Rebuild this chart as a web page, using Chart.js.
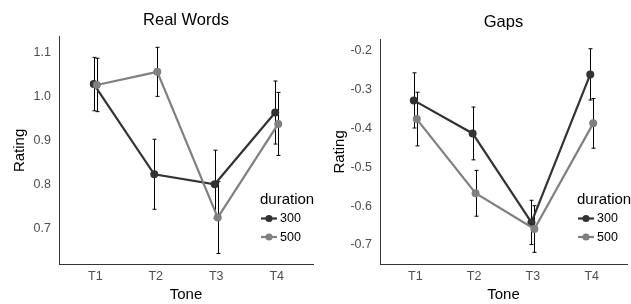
<!DOCTYPE html>
<html>
<head>
<meta charset="utf-8">
<script src="https://cdn.jsdelivr.net/npm/chart.js@4.4.0/dist/chart.umd.min.js"></script>
<style>
body { margin: 0; background: #fff; }
#left { position: absolute; left: 0; top: 0; width: 320px; height: 304px; }
#right { position: absolute; left: 320px; top: 0; width: 311px; height: 304px; }
</style>
</head>
<body>
<div id="left"><canvas id="wordsChart"></canvas></div>
<div id="right"><canvas id="gapsChart"></canvas></div>
<script>
var tones = ['T1', 'T2', 'T3', 'T4'];
var durations = ['300', '500'];

// Real Words panel
var words300 = [1.029, 0.823, 0.800, 0.964];
var words300Err = [0.061, 0.080, 0.078, 0.072];
var words500 = [1.027, 1.057, 0.724, 0.938];
var words500Err = [0.061, 0.056, 0.082, 0.072];
var wordsTicks = [0.7, 0.8, 0.9, 1.0, 1.1];

// Gaps panel
var gaps300 = [-0.328, -0.413, -0.642, -0.261];
var gaps300Err = [0.071, 0.068, 0.057, 0.066];
var gaps500 = [-0.376, -0.567, -0.659, -0.387];
var gaps500Err = [0.069, 0.059, 0.060, 0.064];
var gapsTicks = [-0.7, -0.6, -0.5, -0.4, -0.3, -0.2];

var colors = ['#333333', '#808080'];
var FONT = "'Liberation Sans', Arial, sans-serif";

// error bars drawn under the lines, from each dataset's errors array
var errorBars = {
    id: 'errorBars',
    beforeDatasetsDraw: function (chart) {
        var ctx = chart.ctx, y = chart.scales.y;
        ctx.save();
        ctx.strokeStyle = '#000';
        ctx.lineWidth = 1;
        chart.data.datasets.forEach(function (ds, i) {
            chart.getDatasetMeta(i).data.forEach(function (pt, j) {
                var v = ds.data[j].y, e = ds.errors[j];
                var top = y.getPixelForValue(v + e), bot = y.getPixelForValue(v - e);
                var x = Math.round(pt.x) + 0.5;
                ctx.beginPath();
                ctx.moveTo(x, top); ctx.lineTo(x, bot);
                ctx.moveTo(x - 2, top); ctx.lineTo(x + 2, top);
                ctx.moveTo(x - 2, bot); ctx.lineTo(x + 2, bot);
                ctx.stroke();
            });
        });
        ctx.restore();
    }
};

// ggplot-like legend sitting inside the plot
var insideLegend = {
    id: 'insideLegend',
    afterDraw: function (chart, args, opts) {
        var ctx = chart.ctx, L = opts.x, T = opts.y;
        ctx.save();
        ctx.fillStyle = '#000';
        ctx.font = '15px ' + FONT;
        ctx.textBaseline = 'middle';
        ctx.fillText('duration', L, T);
        durations.forEach(function (d, i) {
            var ry = T + 18.5 * (i + 1);
            ctx.strokeStyle = colors[i];
            ctx.fillStyle = colors[i];
            ctx.lineWidth = 2.2;
            ctx.beginPath(); ctx.moveTo(L + 1, ry); ctx.lineTo(L + 17, ry); ctx.stroke();
            ctx.beginPath(); ctx.arc(L + 9, ry, 3.6, 0, Math.PI * 2); ctx.fill();
            ctx.fillStyle = '#000';
            ctx.font = '12.5px ' + FONT;
            ctx.fillText(d, L + 20, ry + 0.5);
        });
        ctx.restore();
    }
};

function series(vals, off) {
    return vals.map(function (v, i) { return { x: i + 1 + off, y: v }; });
}

function make_Chart(id, title, v300, e300, v500, e500, ticks, yMin, yMax, p) {
    new Chart(id, {
        type: 'line',
        data: {
            datasets: [{
                label: durations[0], data: series(v300, -0.025), errors: e300, order: 1,
                borderColor: colors[0], backgroundColor: colors[0], borderWidth: 2.2,
                pointRadius: 4, pointBorderWidth: 0
            }, {
                label: durations[1], data: series(v500, 0.025), errors: e500, order: 0,
                borderColor: colors[1], backgroundColor: colors[1], borderWidth: 2.2,
                pointRadius: 4, pointBorderWidth: 0
            }]
        },
        options: {
            responsive: true,
            maintainAspectRatio: false,
            animation: false,
            layout: { padding: { left: 0, right: p.right, top: 0, bottom: 0 } },
            plugins: {
                legend: { display: false },
                tooltip: { enabled: false },
                title: {
                    display: true, text: title, fullSize: false, color: '#000',
                    font: { family: FONT, size: 16.5, weight: 'normal' },
                    padding: { top: p.titleTop, bottom: p.titleBottom }
                },
                insideLegend: { x: p.legX, y: 200 }
            },
            scales: {
                x: {
                    type: 'linear', min: 0.4, max: 4.6,
                    afterBuildTicks: function (s) { s.ticks = tones.map(function (t, i) { return { value: i + 1 }; }); },
                    afterFit: function (s) { s.height = 40; },
                    grid: { display: false, drawTicks: false },
                    border: { color: '#333', width: 1 },
                    ticks: {
                        color: '#4d4d4d', padding: 5, font: { family: FONT, size: 12.5 },
                        callback: function (v) { return tones[v - 1]; }
                    },
                    title: { display: true, text: 'Tone', color: '#000', font: { family: FONT, size: 15 }, padding: 0 }
                },
                y: {
                    min: yMin, max: yMax,
                    afterBuildTicks: function (s) { s.ticks = ticks.map(function (v) { return { value: v }; }); },
                    afterFit: function (s) { s.width = p.axisX; },
                    grid: { display: false, drawTicks: false },
                    border: { color: '#333', width: 1 },
                    ticks: {
                        color: '#4d4d4d', padding: 8, font: { family: FONT, size: 12.5 },
                        callback: function (v) { return v.toFixed(1); }
                    },
                    title: { display: true, text: 'Rating', color: '#000', font: { family: FONT, size: 15 }, padding: { top: 11, bottom: 0 } }
                }
            }
        },
        plugins: [errorBars, insideLegend]
    });
}

make_Chart('wordsChart', 'Real Words', words300, words300Err, words500, words500Err,
    wordsTicks, 0.618, 1.137, { right: 7, titleTop: 11, titleBottom: 6, legX: 260, axisX: 59 });
make_Chart('gapsChart', 'Gaps', gaps300, gaps300Err, gaps500, gaps500Err,
    gapsTicks, -0.749, -0.172, { right: 2, titleTop: 13, titleBottom: 7, legX: 257, axisX: 60 });
</script>
</body>
</html>
